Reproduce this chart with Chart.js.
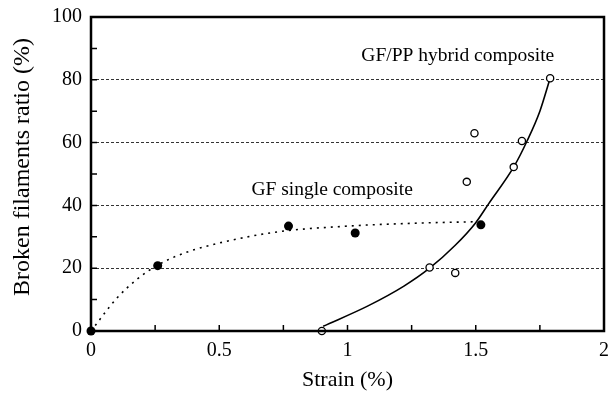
<!DOCTYPE html>
<html>
<head>
<meta charset="utf-8">
<script src="https://cdn.jsdelivr.net/npm/chart.js@4.4.1/dist/chart.umd.min.js"></script>
<style>
  html, body { margin: 0; padding: 0; background: #fff; }
  #wrap { width: 610px; height: 393px; }
</style>
</head>
<body>
<div id="wrap"><canvas id="grafico" width="610" height="393"></canvas></div>
<script>
// dados
const singleStrain = [0, 0.26, 0.77, 1.03, 1.52];
const singleRatio  = [0, 20.8, 33.4, 31.2, 33.8];

const hybridStrain = [0.90, 1.32, 1.42, 1.465, 1.495, 1.648, 1.68, 1.79];
const hybridRatio  = [0, 20.2, 18.5, 47.5, 63, 52.2, 60.5, 80.5];

// curvas de ajuste
const singleFitStrain = [0, 0.1, 0.18, 0.26, 0.37, 0.52, 0.73, 1.0, 1.25, 1.5];
const singleFitRatio  = [0, 10.4, 16.5, 21, 25, 28.4, 31.6, 33.4, 34.3, 34.8];

const hybridFitStrain = [0.905, 1.08, 1.22, 1.32, 1.42, 1.5, 1.55, 1.65, 1.7, 1.75, 1.79];
const hybridFitRatio  = [1.5, 8, 14.3, 20, 27.3, 34.5, 40.5, 52.5, 60.5, 70, 80.5];

const labels = [
  { text: "GF/PP hybrid composite", x: 1.43, y: 87.6 },
  { text: "GF single composite", x: 0.94, y: 44.9 }
];
const yTitle = "Broken filaments ratio (%)";

const pts = (xs, ys) => xs.map((x, i) => ({ x: x, y: ys[i] }));
const serif = "'Liberation Serif', 'Times New Roman', serif";

// moldura, ticks pra dentro e textos
const extras = {
  id: "extras",
  afterDatasetsDraw(chart) {
    const { ctx, chartArea: a, scales } = chart;
    ctx.save();
    ctx.strokeStyle = "#000";
    ctx.lineWidth = 1.5;
    ctx.beginPath();
    scales.y.ticks.forEach(t => {
      if (t.value === 0 || t.value === 100) return;
      const py = scales.y.getPixelForValue(t.value);
      ctx.moveTo(a.left, py);
      ctx.lineTo(a.left + 6, py);
    });
    scales.x.ticks.forEach(t => {
      if (t.value === 0 || t.value === 2) return;
      const px = scales.x.getPixelForValue(t.value);
      ctx.moveTo(px, a.bottom);
      ctx.lineTo(px, a.bottom - 6);
    });
    ctx.stroke();

    ctx.lineWidth = 2.5;
    ctx.strokeRect(a.left, a.top, a.right - a.left, a.bottom - a.top);

    ctx.fillStyle = "#000";
    ctx.font = "19.5px " + serif;
    ctx.textAlign = "center";
    ctx.textBaseline = "middle";
    labels.forEach(l => {
      ctx.fillText(l.text, scales.x.getPixelForValue(l.x), scales.y.getPixelForValue(l.y));
    });

    // titulo do eixo y (um pouco acima do centro, como no original)
    ctx.translate(23, 167);
    ctx.rotate(-Math.PI / 2);
    ctx.font = "24px " + serif;
    ctx.fillText(yTitle, 0, 0);
    ctx.restore();
  }
};

new Chart(document.getElementById("grafico"), {
  type: "scatter",
  data: {
    datasets: [
      {
        label: "fit single",
        data: pts(singleFitStrain, singleFitRatio),
        showLine: true,
        borderColor: "#000",
        borderWidth: 1.6,
        borderDash: [2, 5],
        pointRadius: 0,
        cubicInterpolationMode: "monotone",
        order: 3
      },
      {
        label: "fit hybrid",
        data: pts(hybridFitStrain, hybridFitRatio),
        showLine: true,
        borderColor: "#000",
        borderWidth: 1.6,
        pointRadius: 0,
        cubicInterpolationMode: "monotone",
        order: 2
      },
      {
        label: "GF single composite",
        data: pts(singleStrain, singleRatio),
        pointRadius: 4.5,
        pointBackgroundColor: "#000",
        pointBorderColor: "#000",
        pointBorderWidth: 0,
        clip: false,
        order: 1
      },
      {
        label: "GF/PP hybrid composite",
        data: pts(hybridStrain, hybridRatio),
        pointRadius: 3.6,
        pointBackgroundColor: "#fff",
        pointBorderColor: "#000",
        pointBorderWidth: 1.3,
        clip: false,
        order: 0
      }
    ]
  },
  options: {
    responsive: false,
    animation: false,
    layout: { padding: { top: 17, right: 6, left: 0, bottom: 0 } },
    plugins: {
      legend: { display: false },
      tooltip: { enabled: false }
    },
    scales: {
      x: {
        type: "linear",
        min: 0,
        max: 2,
        afterFit(s) { s.height = 62; s.paddingRight = 0; s.paddingLeft = 0; },
        border: { display: false },
        grid: { display: false, drawTicks: false },
        ticks: {
          stepSize: 0.25,
          autoSkip: false,
          maxRotation: 0,
          padding: 8,
          color: "#000",
          font: { family: serif, size: 20 },
          callback: v => (Math.abs(v * 2 - Math.round(v * 2)) < 1e-6 ? String(v) : "")
        },
        title: {
          display: true,
          text: "Strain (%)",
          color: "#000",
          padding: { top: 0, bottom: 0 },
          font: { family: serif, size: 22 }
        }
      },
      y: {
        type: "linear",
        min: 0,
        max: 100,
        afterFit(s) { s.width = 91; s.paddingTop = 0; s.paddingBottom = 0; },
        border: { display: false, dash: [3, 2] },
        grid: {
          drawTicks: false,
          lineWidth: 1,
          color: c => (c.tick && c.tick.value % 20 === 0 && c.tick.value > 0 && c.tick.value < 100 ? "#333" : "rgba(0,0,0,0)")
        },
        ticks: {
          stepSize: 10,
          autoSkip: false,
          padding: 9,
          color: "#000",
          font: { family: serif, size: 20 },
          callback: v => (v % 20 === 0 ? String(v) : "")
        },
        title: { display: false }
      }
    }
  },
  plugins: [extras]
});
</script>
</body>
</html>
